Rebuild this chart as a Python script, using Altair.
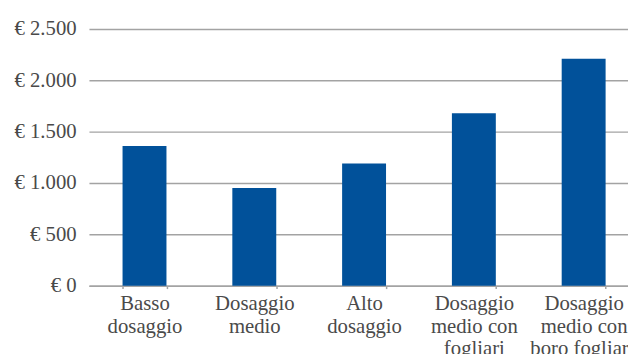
import altair as alt
import pandas as pd

categories = [
    "Basso\ndosaggio",
    "Dosaggio\nmedio",
    "Alto\ndosaggio",
    "Dosaggio\nmedio con\nfogliari",
    "Dosaggio\nmedio con\nboro fogliare",
]
values = [1360, 950, 1190, 1680, 2210]
y_ticks = [0, 500, 1000, 1500, 2000, 2500]

df = pd.DataFrame({"cat": categories, "val": values})

FONT = "Liberation Sans Narrow"
TXT = "#4a4a4a"
GRID = "#a3a3a3"

chart = alt.Chart(df).mark_bar(color="#01519a").encode(
    x=alt.X(
        "cat:N",
        sort=categories,
        scale=alt.Scale(paddingInner=0.6, paddingOuter=0.255, align=0.6),
        axis=alt.Axis(
            title=None,
            labelAngle=0,
            labelExpr="split(datum.label, '\\n')",
            labelFont=FONT,
            labelFontSize=21,
            labelColor=TXT,
            labelLineHeight=23,
            labelBaseline="top",
            labelPadding=4,
            domainColor=GRID,
            domainWidth=1.5,
            tickColor=GRID,
            tickWidth=1.5,
            tickSize=3,
            tickBand="extent",
            grid=False,
        ),
    ),
    y=alt.Y(
        "val:Q",
        scale=alt.Scale(domain=[0, 2500], nice=False),
        axis=alt.Axis(
            title=None,
            values=y_ticks,
            labelExpr="'€ ' + replace(format(datum.value, ','), ',', '.')",
            labelFont=FONT,
            labelFontSize=21,
            labelColor=TXT,
            labelPadding=13,
            domain=False,
            ticks=False,
            gridColor=GRID,
            gridWidth=1.5,
        ),
    ),
).properties(
    width=546,
    height=260,
    autosize=alt.AutoSizeParams(type="none"),
    padding={"left": 82, "top": 19, "right": 0, "bottom": 67},
).configure_view(stroke=None)

chart.save("out.html", embed_options={"renderer": "svg", "actions": False})
